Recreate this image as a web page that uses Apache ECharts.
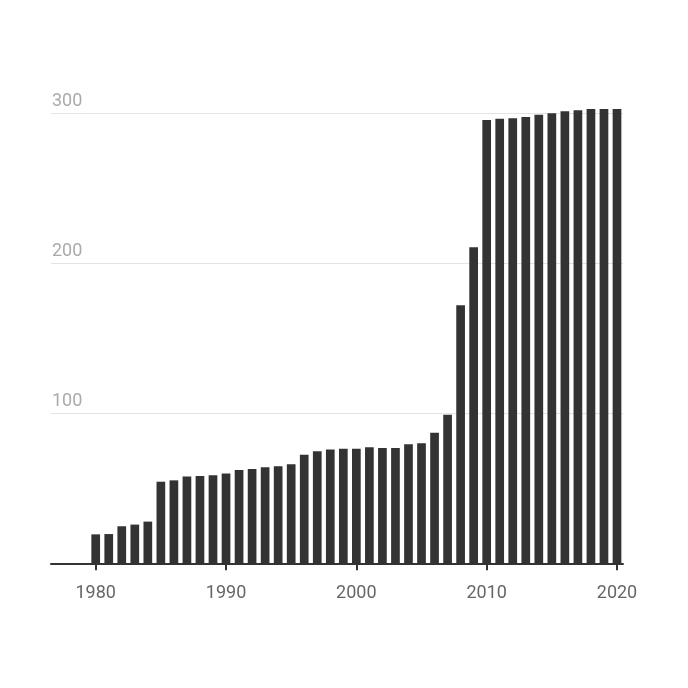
<!DOCTYPE html>
<html>
<head>
<meta charset="utf-8">
<script src="https://cdn.jsdelivr.net/npm/echarts@6/dist/echarts.min.js"></script>
<style>
  html, body { margin: 0; padding: 0; background: #fff; }
  #chart { width: 688px; height: 688px; }
</style>
</head>
<body>
<div id="chart"></div>
<script>
var years = [];
for (var y = 1980; y <= 2020; y++) years.push(y);
var values = [
  19.3, 19.5, 24.7, 25.8, 27.8, 54.4, 55.3, 57.8, 58.2, 58.7,
  59.8, 62.2, 62.9, 64.0, 64.7, 66.0, 72.4, 74.7, 75.8, 76.4,
  76.4, 77.3, 76.9, 76.9, 79.3, 80.0, 87.1, 99.1, 172.0, 210.7,
  295.5, 296.4, 296.7, 297.5, 299.1, 300.0, 301.3, 302.0, 302.9, 302.9,
  302.9
];
var xTicks = [1980, 1990, 2000, 2010, 2020];
var yTicks = [100, 200, 300];

var chart = echarts.init(document.getElementById('chart'));
var option = {
  animation: false,
  grid: { left: 51, right: 65, top: 113.3, bottom: 124.7, containLabel: false },
  xAxis: {
    type: 'value',
    min: 1976.57,
    max: 2020.46,
    splitLine: { show: false },
    axisLine: { show: true, lineStyle: { color: '#333', width: 2 } },
    axisTick: { show: true, length: 7, lineStyle: { color: '#333', width: 2 }, customValues: xTicks },
    axisLabel: {
      customValues: xTicks,
      color: '#666', fontSize: 18, fontFamily: 'Roboto', margin: 21,
      formatter: function (v) { return String(v); }
    }
  },
  yAxis: {
    type: 'value',
    min: 0,
    max: 300,
    interval: 100,
    axisLine: { show: false },
    axisTick: { show: false },
    splitLine: { lineStyle: { color: '#e3e3e3', width: 1 } },
    axisLabel: {
      inside: true,
      showMinLabel: false,
      margin: 1,
      verticalAlign: 'bottom',
      padding: [0, 0, 3, 0],
      color: '#aaa', fontSize: 18, fontFamily: 'Roboto',
      formatter: function (v) { return yTicks.indexOf(v) >= 0 ? String(v) : ''; }
    }
  },
  series: [{
    type: 'bar',
    barWidth: 8.7,
    clip: false,
    itemStyle: { color: '#333' },
    data: years.map(function (yr, i) { return [yr, values[i]]; })
  }]
};
chart.setOption(option);
</script>
</body>
</html>
